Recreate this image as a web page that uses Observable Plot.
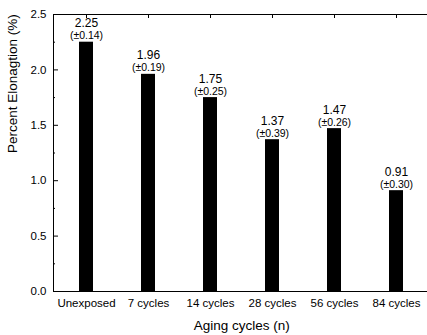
<!DOCTYPE html>
<html>
<head>
<meta charset="utf-8">
<script src="https://cdn.jsdelivr.net/npm/d3@7"></script>
<script src="https://cdn.jsdelivr.net/npm/@observablehq/plot@0.6"></script>
<style>
  html, body { margin: 0; padding: 0; background: #fff; }
  #chart svg { display: block; }
</style>
</head>
<body>
<div id="chart"></div>
<script>
const categories = ["Unexposed", "7 cycles", "14 cycles", "28 cycles", "56 cycles", "84 cycles"];
const means = [2.25, 1.96, 1.75, 1.37, 1.47, 0.91];
const sds = [0.14, 0.19, 0.25, 0.39, 0.26, 0.30];
const yTicks = [0, 0.5, 1.0, 1.5, 2.0, 2.5];
const yMinorTicks = [0.25, 0.75, 1.25, 1.75, 2.25];
const xTitle = "Aging cycles (n)";
const yTitle = "Percent Elonagtion (%)";

const data = categories.map((c, i) => ({cat: c, mean: means[i], sd: sds[i]}));

const chart = Plot.plot({
  width: 427,
  height: 335,
  marginLeft: 53,
  marginRight: -2.4,
  marginTop: 14,
  marginBottom: 44,
  style: {fontFamily: "'Liberation Sans', Arial, sans-serif", fontSize: "11.5px", color: "black", background: "white"},
  x: {type: "band", domain: categories, paddingInner: 0.777, paddingOuter: 0.3885},
  y: {domain: [0, 2.5]},
  marks: [
    Plot.barY(data, {x: "cat", y: "mean", fill: "black"}),
    Plot.text(data, {x: "cat", y: "mean", text: d => d.mean.toFixed(2), lineAnchor: "bottom", dy: -15, fontSize: 12, fill: "black"}),
    Plot.text(data, {x: "cat", y: "mean", text: d => `(±${d.sd.toFixed(2)})`, lineAnchor: "bottom", dy: -3, fontSize: 10.5, fill: "black"}),
    Plot.frame({stroke: "black"}),
    Plot.axisY(yTicks, {anchor: "left", tickSize: -5, tickPadding: 12, tickFormat: d3.format(".1f"), fontSize: 11.5, label: null}),
    Plot.axisY(yMinorTicks, {anchor: "left", tickSize: -2, text: null, label: null}),
    Plot.axisX({anchor: "bottom", tickSize: 0, tickPadding: 7, fontSize: 11.5, label: null}),
    Plot.axisX({anchor: "top", tickSize: -3, text: null, label: null}),
    Plot.text([xTitle], {frameAnchor: "bottom", dy: 38, lineAnchor: "bottom", fontSize: 13.5, fill: "black"}),
    Plot.text([yTitle], {frameAnchor: "left", rotate: -90, dx: -46, lineAnchor: "top", fontSize: 13.5, fill: "black"})
  ]
});
document.getElementById("chart").append(chart);
</script>
</body>
</html>
